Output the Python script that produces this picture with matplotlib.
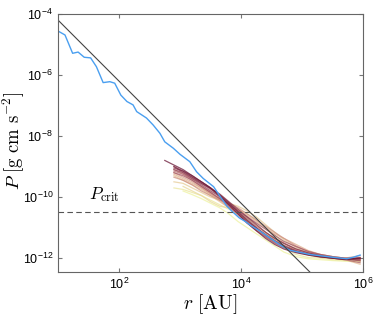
import numpy as np
from matplotlib import pyplot as plt
from matplotlib.colors import LinearSegmentedColormap
from matplotlib.ticker import FixedLocator, FuncFormatter

plt.rcParams['font.family'] = ['Liberation Sans', 'DejaVu Sans']
plt.rcParams['mathtext.fontset'] = 'cm'

# blue profile (log10 r, log10 P)
blue_lr = [1.0, 1.115, 1.24, 1.33, 1.43, 1.535, 1.63, 1.74, 1.85, 1.93, 2.03, 2.13, 2.23,
           2.29, 2.45, 2.56, 2.67, 2.75, 2.89, 3.0, 3.16, 3.27, 3.38, 3.55, 3.66, 3.77,
           3.87, 3.97, 4.07, 4.15, 4.3, 4.48, 4.64, 4.8, 5.13, 5.5, 5.73, 5.84, 5.95]
blue_lp = [-4.56, -4.69, -5.29, -5.25, -5.42, -5.44, -5.73, -6.25, -6.22, -6.27, -6.66, -6.87, -6.98,
           -7.2, -7.41, -7.64, -7.91, -8.19, -8.4, -8.6, -8.84, -9.17, -9.39, -9.66, -9.99, -10.3,
           -10.5, -10.68, -10.8, -10.92, -11.1, -11.35, -11.57, -11.74, -11.88, -11.97, -12.02, -11.97, -11.9]

# shared radius grid for the coloured profiles
band_lr = [2.75, 2.9, 3.05, 3.2, 3.35, 3.5, 3.65, 3.8, 3.95, 4.1, 4.25, 4.4, 4.55, 4.7,
           4.9, 5.1, 5.3, 5.5, 5.7, 5.95]
n = np.nan
band_lp = [
    [n, n, -9.8, -9.92, -10.05, -10.2, -10.35, -10.55, -10.8, -11.0, -11.2, -11.4, -11.6, -11.8, -11.95, -12.02, -12.05, -12.08, -12.1, -12.12],
    [n, -9.7, -9.75, -9.85, -9.95, -10.1, -10.25, -10.4, -10.55, -10.7, -10.9, -11.15, -11.4, -11.65, -11.88, -11.98, -12.0, -12.05, -12.08, -12.1],
    [n, n, -9.65, -9.8, -9.95, -10.15, -10.3, -10.35, -10.4, -10.55, -10.75, -11.0, -11.25, -11.5, -11.75, -11.9, -11.98, -12.02, -12.05, -12.08],
    [n, -9.5, -9.55, -9.7, -9.85, -10.0, -10.1, -10.2, -10.3, -10.45, -10.65, -10.9, -11.15, -11.4, -11.65, -11.82, -11.92, -11.98, -12.0, -12.05],
    [n, -9.3, -9.45, -9.6, -9.75, -9.95, -10.15, -10.35, -10.55, -10.8, -11.0, -11.2, -11.4, -11.6, -11.8, -11.9, -11.97, -12.0, -12.05, -12.2],
    [n, -9.25, -9.4, -9.55, -9.7, -9.9, -10.05, -10.25, -10.4, -10.6, -10.8, -11.0, -11.2, -11.35, -11.55, -11.75, -11.88, -11.95, -12.0, -12.05],
    [n, -9.2, -9.35, -9.5, -9.7, -9.9, -10.1, -10.35, -10.6, -10.85, -11.05, -11.25, -11.45, -11.6, -11.75, -11.88, -11.95, -11.98, -12.0, -11.92],
    [n, -9.35, -9.45, -9.6, -9.8, -9.95, -10.1, -10.2, -10.35, -10.55, -10.75, -10.95, -11.15, -11.35, -11.6, -11.78, -11.88, -11.95, -12.0, -12.1],
    [n, -9.1, -9.25, -9.45, -9.65, -9.85, -10.05, -10.3, -10.55, -10.8, -11.05, -11.3, -11.5, -11.65, -11.8, -11.88, -11.95, -12.0, -12.05, -12.0],
    [n, -9.15, -9.25, -9.4, -9.55, -9.75, -9.95, -10.2, -10.45, -10.7, -10.95, -11.15, -11.35, -11.5, -11.7, -11.82, -11.9, -11.97, -12.02, -12.05],
    [n, -9.0, -9.2, -9.35, -9.5, -9.7, -10.0, -10.3, -10.55, -10.85, -11.1, -11.3, -11.5, -11.65, -11.78, -11.88, -11.95, -12.0, -12.05, -12.15],
    [n, -9.2, -9.3, -9.45, -9.65, -9.85, -10.05, -10.25, -10.45, -10.65, -10.85, -11.05, -11.25, -11.45, -11.62, -11.78, -11.88, -11.95, -12.0, -11.98],
    [n, -9.1, -9.2, -9.4, -9.6, -9.8, -9.98, -10.22, -10.5, -10.78, -11.02, -11.22, -11.42, -11.58, -11.75, -11.86, -11.93, -11.99, -12.03, -12.08],
    [n, -9.05, -9.15, -9.3, -9.5, -9.7, -9.9, -10.15, -10.4, -10.65, -10.9, -11.15, -11.35, -11.52, -11.7, -11.83, -11.92, -11.98, -12.02, -12.03],
    [n, -9.0, -9.15, -9.35, -9.55, -9.72, -9.92, -10.18, -10.48, -10.75, -11.0, -11.25, -11.45, -11.62, -11.78, -11.88, -11.95, -12.0, -12.04, -12.0],
    [-8.8, -8.95, -9.1, -9.3, -9.5, -9.7, -9.95, -10.25, -10.55, -10.85, -11.1, -11.35, -11.55, -11.7, -11.82, -11.9, -11.96, -12.0, -12.04, -12.0],
]

P_CRIT = 3.2e-11
P0 = 6.3e-3  # P = P0 / r^2

cmap = LinearSegmentedColormap.from_list('band', ['#eef3a0', '#e0b090', '#b0606a', '#6a1838'])

fig = plt.figure(figsize=(3.74, 3.16), dpi=100)
ax = fig.add_axes([0.155, 0.139, 0.816, 0.817])

r_band = 10 ** np.array(band_lr)
for i, lp in enumerate(band_lp):
    ax.plot(r_band, 10 ** np.array(lp), color=cmap(i / (len(band_lp) - 1)), lw=0.9, alpha=0.75)

ax.plot(10 ** np.array(blue_lr), 10 ** np.array(blue_lp), color='#4a9ff0', lw=1.0)

r_line = np.array([10, 1e6])
ax.plot(r_line, P0 / r_line ** 2, color='#444444', lw=0.8)
ax.axhline(P_CRIT, color='#555555', lw=0.8, ls=(0, (5, 3)))
ax.text(32, 8.5e-11, r'$P_{\rm crit}$', fontsize=12.5)

ax.set_xscale('log')
ax.set_yscale('log')
ax.set_xlim(10, 1e6)
ax.set_ylim(3.5e-13, 1e-4)
ax.xaxis.set_major_locator(FixedLocator([1e2, 1e4, 1e6]))
ax.yaxis.set_major_locator(FixedLocator([1e-12, 1e-10, 1e-8, 1e-6, 1e-4]))
ax.xaxis.set_minor_locator(FixedLocator([]))
ax.yaxis.set_minor_locator(FixedLocator([]))
fmt = FuncFormatter(lambda v, p: r'$\mathregular{10^{%d}}$' % int(round(np.log10(v))))
ax.xaxis.set_major_formatter(fmt)
ax.yaxis.set_major_formatter(fmt)
ax.tick_params(which='both', direction='in', top=True, right=True, length=3,
               labelsize=9, color='#777777')
for s in ax.spines.values():
    s.set_color('#666666')

ax.set_xlabel(r'$r\ [\mathrm{AU}]$', fontsize=14, labelpad=0)
ax.set_ylabel(r'$P\ [\mathrm{g\ cm\ s^{-2}}]$', fontsize=13.5)
ax.yaxis.set_label_coords(-0.105, 0.51)

fig.savefig('out.png', dpi=100)
